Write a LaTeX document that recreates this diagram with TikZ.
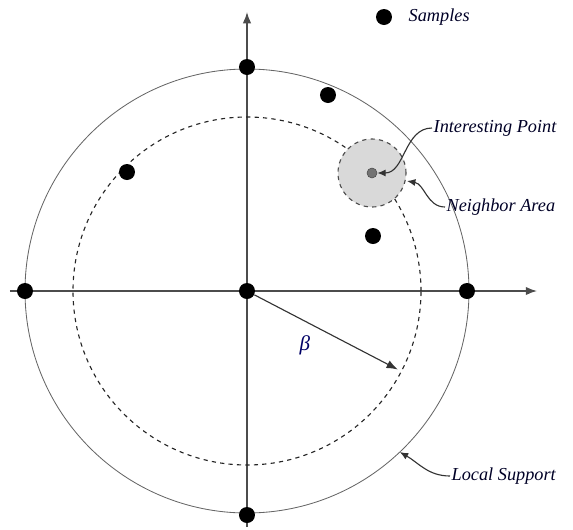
\documentclass[tikz,border=0pt]{standalone}
\usepackage{fontspec}
\setmainfont{Liberation Serif}
\usetikzlibrary{arrows.meta}
\begin{document}
\begin{tikzpicture}[x=0.025cm,y=0.025cm,
    sample/.style={circle,fill=black,inner sep=0pt,minimum size=16*0.025cm},
    lbl/.style={font=\itshape\fontsize{13}{15}\selectfont,text=black!85!blue,inner sep=1pt},
    pointer/.style={-{Latex[length=6pt,width=5pt]},thick,black!80}]
    \useasboundingbox (-247,-238) rectangle (326,291);
        %Axis
            \draw[-{Latex[length=8pt,width=6pt]},black!70,line width=1pt] (-237,0) -- (290,0);
            \draw[-{Latex[length=8pt,width=6pt]},black!70,line width=1pt] (0,-236) -- (0,279);
        %Circles
            \draw[black!60,line width=0.6pt] (0,0) circle (222);
            \draw[dashed,black!85,thick] (0,0) circle (174);
        %Neighbor area
            \draw[dashed,black!70,thick,fill=black!15] (125,118) circle (34);
            \node (ip) [circle,fill=black!55,draw=black!70,inner sep=0pt,minimum size=10*0.025cm] at (125,118) {};
            \coordinate (na) at (160,110);
        %Samples
            \node (top) [sample] at (90:224) {};
            \node (center) [sample] at (0,0) {};
            \node (bottom) [sample] at (-90:224) {};
            \node (left) [sample] at (180:222) {};
            \node (right) [sample] at (0:220) {};
            \node (s1) [sample] at (81,196) {};
            \node (s2) [sample] at (-120,119) {};
            \node (s3) [sample] at (126,55) {};
        %Radius
            \coordinate (rim) at (-27.5:170);
            \draw[-{Latex[length=8pt,width=6pt]},black!80,thick] (center) -- (rim);
            \node (beta) [font=\itshape\fontsize{15}{17}\selectfont,text=black!60!blue] at (58,-54) {β};
        %Legend
            \node (legdot) [sample] at (137,274) {};
            \node (samples) [lbl,anchor=west] at (160,274) {Samples};
        %Labels
            \node (iplbl) [lbl,anchor=west] at (185,163) {Interesting Point};
            \node (nalbl) [lbl,anchor=west] at (198,84) {Neighbor Area};
            \node (lslbl) [lbl,anchor=west] at (203,-185) {Local Support};
            \coordinate (ls) at (-46.5:222);
            \draw[pointer] (iplbl.west) to[out=180,in=0] (ip.east);
            \draw[pointer] (nalbl.west) to[out=180,in=-10] (na);
            \draw[pointer] (lslbl.west) to[out=180,in=-30] (ls);
    \end{tikzpicture}
\end{document}
